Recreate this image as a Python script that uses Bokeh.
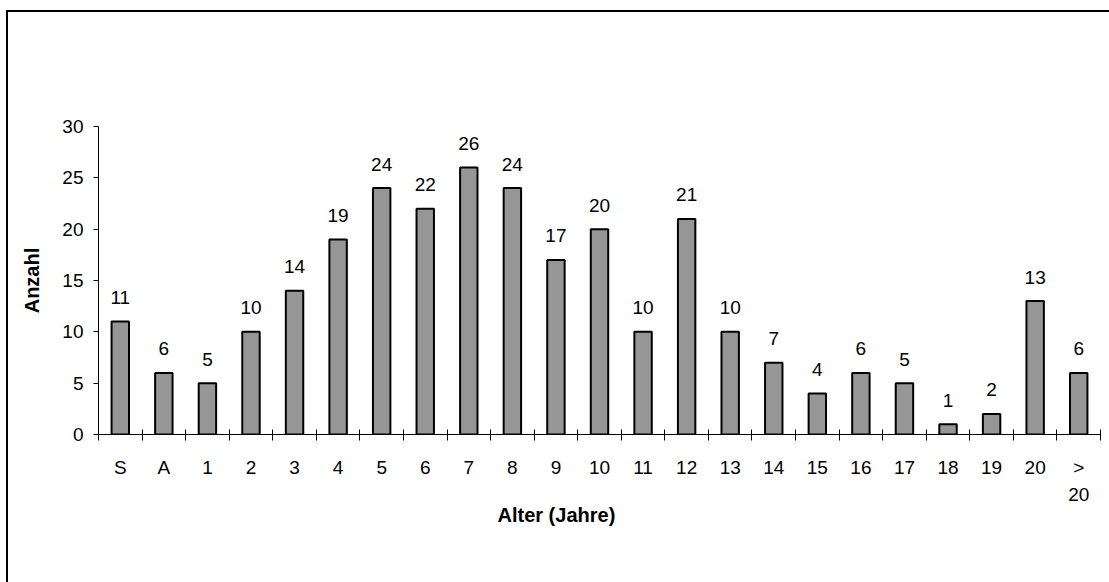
from bokeh.plotting import figure
from bokeh.models import Range1d, LinearAxis, FixedTicker, Title, ColumnDataSource
from bokeh.core.properties import value
from bokeh.embed import file_html
from bokeh.resources import INLINE

categories = ["S", "A", "1", "2", "3", "4", "5", "6", "7", "8", "9", "10",
              "11", "12", "13", "14", "15", "16", "17", "18", "19", "20", ">\n20"]
counts = [11, 6, 5, 10, 14, 19, 24, 22, 26, 24, 17, 20, 10, 21, 10, 7, 4, 6, 5, 1, 2, 13, 6]
y_ticks = [0, 5, 10, 15, 20, 25, 30]
x_title = "Alter (Jahre)"
y_title = "Anzahl"

n = len(categories)
xs = list(range(1, n + 1))
FONT = "Liberation Sans"
NUM_SIZE = "19px"
TITLE_SIZE = "20px"

# outer frame of the chart: only top and left edges are visible in the original
frame_style = {
    "background": ("linear-gradient(#000, #000) 6px 10px / 1103px 2px no-repeat, "
                   "linear-gradient(#000, #000) 6px 10px / 2px 572px no-repeat, #fff"),
}

p = figure(width=1109, height=582, output_backend="svg", toolbar_location=None,
           x_range=Range1d(0.5, n + 0.5), y_range=Range1d(0, 30),
           x_axis_type=None, y_axis_type=None,
           min_border_left=98, min_border_right=9, min_border_top=126, min_border_bottom=148,
           styles=frame_style)
p.xgrid.visible = False
p.ygrid.visible = False
p.outline_line_color = None
p.background_fill_color = None
p.border_fill_color = None

src = ColumnDataSource(dict(x=xs, y=counts, label=[str(c) for c in counts]))
p.vbar(x="x", top="y", bottom=0, width=0.4, source=src,
       fill_color="#969696", line_color="black", line_width=2)
p.text(x="x", y="y", text="label", source=src, text_align="center",
       text_baseline="alphabetic", y_offset=-24, text_font=value(FONT),
       text_font_size=NUM_SIZE, text_color="black")

# x axis: labels at category centres, tick marks between categories
xaxis = LinearAxis(ticker=FixedTicker(ticks=xs, minor_ticks=[i + 0.5 for i in range(0, n + 1)]))
xaxis.major_label_overrides = {x: c for x, c in zip(xs, categories)}
xaxis.major_tick_line_color = None
xaxis.major_tick_out = 0
xaxis.major_tick_in = 0
xaxis.minor_tick_in = 5
xaxis.minor_tick_out = 6
xaxis.minor_tick_line_color = "black"
xaxis.axis_line_color = "black"
xaxis.major_label_text_font = FONT
xaxis.major_label_text_font_size = NUM_SIZE
xaxis.major_label_text_color = "black"
xaxis.major_label_text_line_height = 1.3
xaxis.major_label_standoff = 16
p.add_layout(xaxis, "below")

# x axis title (placed off-centre as in the original)
p.add_layout(Title(text=x_title, align="left", offset=399, standoff=-11,
                   text_font=FONT, text_font_size=TITLE_SIZE, text_font_style="bold",
                   text_color="black"), "below")

# y axis
yaxis = LinearAxis(ticker=FixedTicker(ticks=y_ticks, minor_ticks=[]))
yaxis.major_tick_out = 5
yaxis.major_tick_in = 0
yaxis.minor_tick_line_color = None
yaxis.major_tick_line_color = "black"
yaxis.axis_line_color = "black"
yaxis.major_label_text_font = FONT
yaxis.major_label_text_font_size = NUM_SIZE
yaxis.major_label_text_color = "black"
yaxis.major_label_standoff = 10
yaxis.axis_label = y_title
yaxis.axis_label_text_font = FONT
yaxis.axis_label_text_font_size = TITLE_SIZE
yaxis.axis_label_text_font_style = "bold"
yaxis.axis_label_text_color = "black"
yaxis.axis_label_standoff = 16
p.add_layout(yaxis, "left")

open("out.html", "w").write(file_html(p, INLINE))
